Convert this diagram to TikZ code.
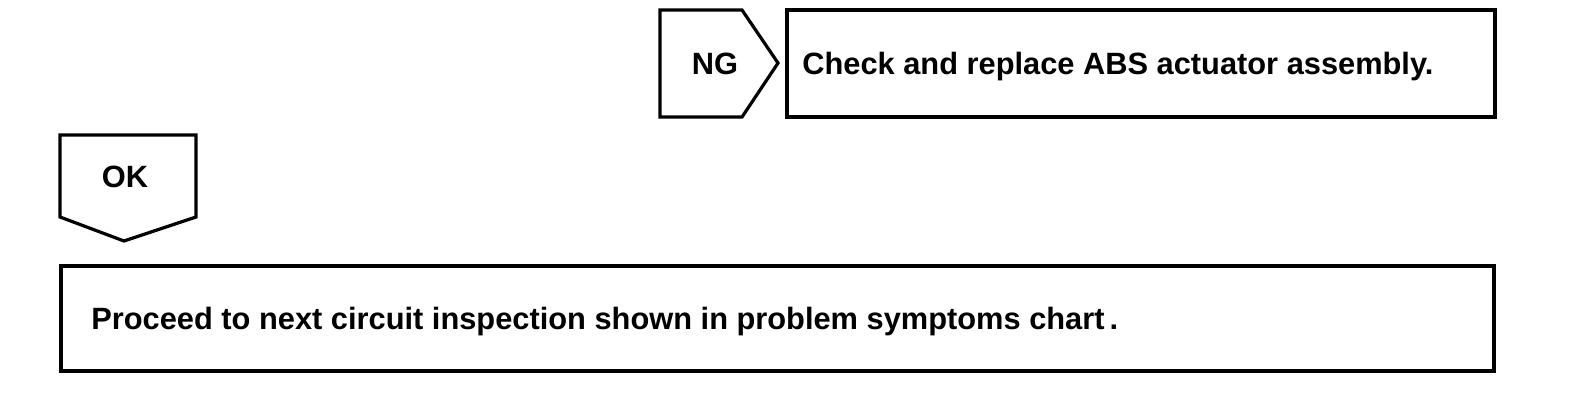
\documentclass[tikz,border=0pt]{standalone}
\usepackage{fontspec}
\setmainfont{Liberation Sans}
\usetikzlibrary{positioning}

\begin{document}
\begin{tikzpicture}[x=0.5pt, y=-0.5pt,
    frame/.style={draw=black, line width=1.6pt, line join=miter},
    tag/.style={font=\bfseries\fontsize{15.4}{18}\selectfont, inner sep=0pt},
]
    \useasboundingbox (0,0) rectangle (1584,412);

    % NG branch
    \draw[frame] (660,10) -- (742,10) -- (778,63) -- (742,117) -- (660,117) -- cycle;
    \node[tag, anchor=base] (ng) at (715,74) {NG};

    \draw[frame] (787,10) rectangle (1495,117);
    \node[tag, anchor=base west] (replace) at (802,74) {Check and replace ABS actuator assembly.};

    % OK branch
    \draw[frame] (60,135) -- (196,135) -- (196,217) -- (124,241) -- (60,217) -- cycle;
    \node[tag, anchor=base] (ok) at (125,187) {OK};

    \draw[frame] (61,266) rectangle (1494,371);
    \node[tag, anchor=base west] (next) at (91,329) {Proceed to next circuit inspection shown in problem symptoms chart\,.};

\end{tikzpicture}
\end{document}
